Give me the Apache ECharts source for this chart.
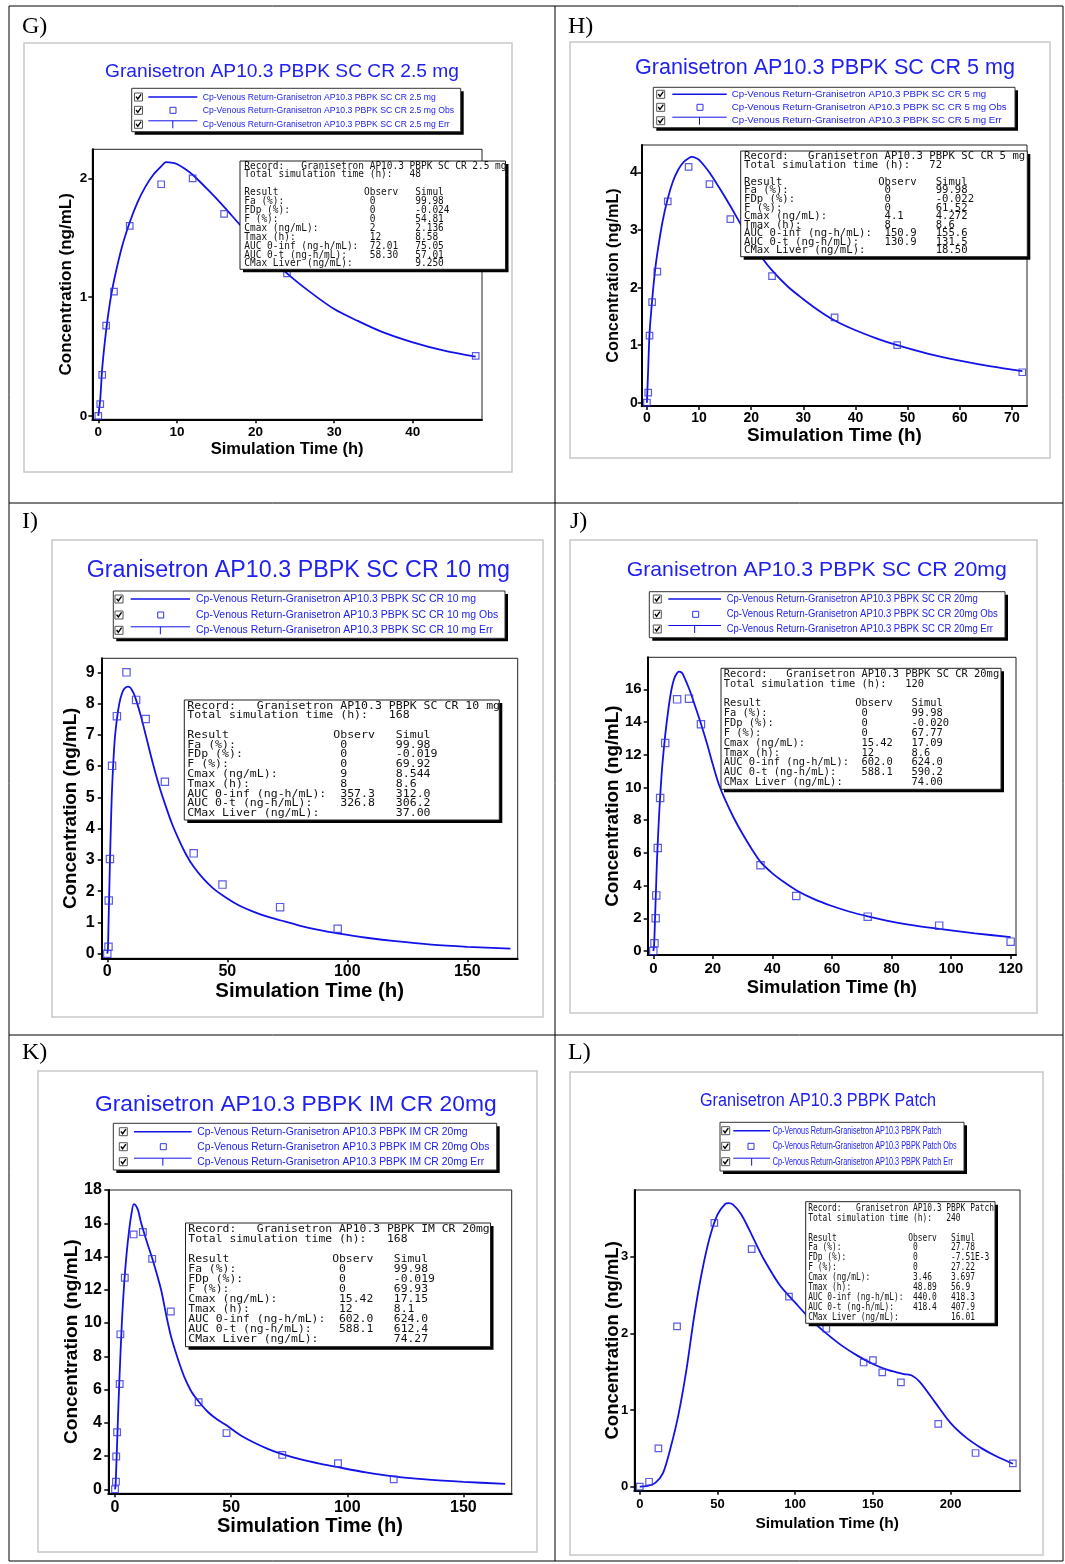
<!DOCTYPE html>
<html><head><meta charset="utf-8">
<script src="https://cdn.jsdelivr.net/npm/echarts@6/dist/echarts.min.js"></script>
<style>html,body{margin:0;padding:0;background:#fff}#c{width:1065px;height:1564px}</style>
</head><body><div id="c"></div>
<script>
// ---------------- DATA ----------------
const xAxisName = 'Simulation Time (h)';
const yAxisName = 'Concentration (ng/mL)';
const resultLabels = ['Fa (%):','FDp (%):','F (%):','Cmax (ng/mL):','Tmax (h):','AUC 0-inf (ng-h/mL):','AUC 0-t (ng-h/mL):','CMax Liver (ng/mL):'];

// G
const titleG = 'Granisetron AP10.3 PBPK SC CR 2.5 mg';
const seriesG = 'Cp-Venous Return-Granisetron AP10.3 PBPK SC CR 2.5 mg';
const simG = [[0,0],[0.25,0.14],[0.5,0.4],[1,0.72],[1.5,0.96],[2,1.14],[3,1.42],[4,1.63],[5,1.8],[6,1.93],[7,2.03],[8,2.1],[8.6,2.136],[9.5,2.13],[10,2.12],[11,2.08],[12,2.03],[14,1.9],[16,1.76],[18,1.61],[20,1.47],[22,1.33],[24,1.2],[27,1.04],[30,0.9],[33,0.8],[36,0.71],[40,0.62],[44,0.55],[48,0.5]];
const obsG = [[0,0],[0.25,0.10],[0.5,0.345],[1,0.76],[2,1.046],[4,1.6],[8,1.95],[12,2.0],[16,1.7],[24,1.2],[48,0.505]];
const xTicksG = [0,10,20,30,40];
const yTicksG = [0,1,2];
const totalG = '48';
const resObsG = ['0','0','0','2','12','72.01','58.30',''];
const resSimG = ['99.98','-0.024','54.81','2.136','8.58','75.05','57.01','9.250'];

// H
const titleH = 'Granisetron AP10.3 PBPK SC CR 5 mg';
const seriesH = 'Cp-Venous Return-Granisetron AP10.3 PBPK SC CR 5 mg';
const simH = [[0,0],[0.25,0.6],[0.5,1.2],[1,1.78],[1.5,2.25],[2,2.6],[3,3.15],[4,3.55],[5,3.85],[6,4.05],[7,4.18],[8,4.25],[8.6,4.272],[9.5,4.25],[10,4.22],[11,4.12],[12,4.0],[14,3.72],[16,3.42],[18,3.1],[20,2.8],[22,2.53],[24,2.3],[27,2.02],[30,1.8],[33,1.6],[36,1.43],[40,1.26],[44,1.12],[48,1.0],[54,0.85],[60,0.73],[66,0.63],[72,0.55]];
const obsH = [[0,0],[0.25,0.174],[0.5,1.165],[1,1.75],[2,2.28],[4,3.5],[8,4.1],[12,3.8],[16,3.19],[24,2.2],[36,1.485],[48,1.0],[72,0.53]];
const xTicksH = [0,10,20,30,40,50,60,70];
const yTicksH = [0,1,2,3,4];
const totalH = '72';
const resObsH = ['0','0','0','4.1','8','150.9','130.9',''];
const resSimH = ['99.98','-0.022','61.52','4.272','8.6','155.6','131.5','18.50'];

// I
const titleI = 'Granisetron AP10.3 PBPK SC CR 10 mg';
const seriesI = 'Cp-Venous Return-Granisetron AP10.3 PBPK SC CR 10 mg';
const simI = [[0,0],[0.25,0.15],[0.5,0.9],[1,2.6],[1.5,4.1],[2,5.3],[3,6.75],[4,7.5],[5,8.0],[6,8.3],[7,8.47],[8,8.53],[8.6,8.544],[9.5,8.52],[10,8.47],[11,8.33],[12,8.12],[14,7.6],[16,7.0],[18,6.38],[20,5.8],[22,5.27],[24,4.8],[27,4.15],[30,3.62],[33,3.15],[36,2.78],[40,2.4],[44,2.1],[48,1.87],[54,1.58],[60,1.37],[66,1.2],[72,1.07],[80,0.9],[88,0.76],[96,0.65],[108,0.51],[120,0.4],[135,0.29],[150,0.22],[168,0.16]];
const obsI = [[0,0],[0.5,0.22],[0.6,1.7],[1.1,3.03],[2,6.01],[4,7.6],[8,9.0],[12,8.12],[16,7.51],[24,5.5],[36,3.21],[48,2.21],[72,1.49],[96,0.80]];
const xTicksI = [0,50,100,150];
const yTicksI = [0,1,2,3,4,5,6,7,8,9];
const totalI = '168';
const resObsI = ['0','0','0','9','8','357.3','326.8',''];
const resSimI = ['99.98','-0.019','69.92','8.544','8.6','312.0','306.2','37.00'];

// J
const titleJ = 'Granisetron AP10.3 PBPK SC CR 20mg';
const seriesJ = 'Cp-Venous Return-Granisetron AP10.3 PBPK SC CR 20mg';
const simJ = [[0,0],[0.25,0.3],[0.5,1.5],[1,4.3],[1.34,6.0],[2,8.5],[2.5,10.0],[3,11.3],[4,13.2],[5,14.7],[6,15.9],[7,16.65],[8,17.0],[8.6,17.09],[9.5,17.03],[10,16.9],[12,16.05],[14,15.0],[16,13.9],[18,12.7],[20,11.4],[22,10.2],[24,9.3],[27,8.15],[30,7.15],[33,6.25],[36,5.45],[40,4.75],[44,4.2],[48,3.72],[54,3.17],[60,2.75],[66,2.4],[72,2.12],[80,1.8],[88,1.55],[96,1.35],[108,1.08],[120,0.85]];
const obsJ = [[0,0],[0.4,0.47],[0.8,2.0],[1.0,3.4],[1.5,6.3],[2.3,9.36],[4,12.72],[8,15.39],[12,15.43],[16,13.87],[36,5.24],[48,3.36],[72,2.10],[96,1.55],[120,0.57]];
const xTicksJ = [0,20,40,60,80,100,120];
const yTicksJ = [0,2,4,6,8,10,12,14,16];
const totalJ = '120';
const resObsJ = ['0','0','0','15.42','12','602.0','588.1',''];
const resSimJ = ['99.98','-0.020','67.77','17.09','8.6','624.0','590.2','74.00'];

// K
const titleK = 'Granisetron AP10.3 PBPK IM CR 20mg';
const seriesK = 'Cp-Venous Return-Granisetron AP10.3 PBPK IM CR 20mg';
const simK = [[0,0],[0.25,0.3],[0.5,1.2],[1,3.2],[1.5,5.2],[2,7.0],[3,10.2],[4,12.5],[5,14.2],[6,15.5],[7,16.5],[8.1,17.15],[9,17.05],[10,16.75],[11,16.15],[12,15.65],[14,14.75],[16,13.9],[18,12.95],[20,11.9],[22,10.5],[24,9.25],[26,8.3],[28,7.45],[30,6.7],[33,5.85],[36,5.28],[40,4.65],[44,4.2],[48,3.85],[54,3.25],[60,2.8],[66,2.42],[72,2.12],[80,1.8],[88,1.55],[96,1.33],[108,1.02],[120,0.78],[135,0.58],[150,0.45],[168,0.33]];
const obsK = [[0,0],[0.4,0.46],[0.5,1.97],[0.9,3.43],[2,6.33],[2.3,9.32],[4.2,12.72],[8,15.33],[12,15.47],[16,13.86],[24,10.69],[36,5.24],[48,3.38],[72,2.07],[96,1.57],[120,0.60]];
const xTicksK = [0,50,100,150];
const yTicksK = [0,2,4,6,8,10,12,14,16,18];
const totalK = '168';
const resObsK = ['0','0','0','15.42','12','602.0','588.1',''];
const resSimK = ['99.98','-0.019','69.93','17.15','8.1','624.0','612.4','74.27'];

// L
const titleL = 'Granisetron AP10.3 PBPK Patch';
const seriesL = 'Cp-Venous Return-Granisetron AP10.3 PBPK Patch';
const simL = [[0,0],[5,0.01],[10,0.05],[15,0.18],[20,0.52],[25,0.95],[30,1.52],[35,2.22],[40,2.8],[45,3.25],[50,3.55],[55,3.69],[57,3.7],[60,3.68],[65,3.56],[70,3.37],[75,3.16],[80,2.96],[90,2.63],[100,2.4],[110,2.18],[120,2.0],[130,1.84],[140,1.71],[150,1.6],[160,1.52],[170,1.47],[175,1.45],[180,1.37],[190,1.1],[200,0.83],[210,0.64],[220,0.5],[230,0.39],[240,0.3]];
const obsL = [[0,0],[6,0.065],[12,0.5],[24,2.09],[48,3.44],[72,3.1],[96,2.48],[120,2.06],[144,1.62],[150,1.65],[156,1.49],[168,1.36],[192,0.82],[216,0.44],[240,0.305]];
const xTicksL = [0,50,100,150,200];
const yTicksL = [0,1,2,3];
const totalL = '240';
const resObsL = ['0','0','0','3.46','48.89','440.0','418.4',''];
const resSimL = ['27.78','-7.51E-3','27.22','3.697','56.9','418.3','407.9','16.01'];

const panelLetters = ['G)','H)','I)','J)','K)','L)'];

// ---------------- LAYOUT ----------------
const LAY = [
 {grid:[92.3,149.3,389.7,270], xr:[-0.76,48.8], yr:[-0.028,2.244], tfs:13.5, xlm:6, ylm:5, xnfs:16.5, xng:22, ynfs:17, yng:17,
  title:[282,71.5,354,19], frame:[24,43,488,429], lab:[22,27], sym:6.5,
  legend:{x:131.7,y:88.3,w:329,h:43.4,rows:[97,110.3,124.3],cb:134.5,lx1:148.3,lx2:197.3,sq:173,tx:202.7,fs:9.3,obsW:251.3},
  record:{x:240,y:161,w:265.5,h:108.3,tx:244.3,ty0:166,lh:8.9,cw:5.7,fs:9.8}},
 {grid:[641.7,145,385.3,261], xr:[-1.0,72.9], yr:[-0.057,4.48], tfs:14, xlm:5, ylm:4, xnfs:18.9, xng:20.5, ynfs:16.3, yng:20,
  title:[825,68,380,21.5], frame:[570,42,480,416], lab:[568,27], sym:6.5,
  legend:{x:653.3,y:87.3,w:361.7,h:40.4,rows:[94.3,107.3,120.7],cb:656.7,lx1:672.3,lx2:726.7,sq:700,tx:731.7,fs:9.2,obsW:275},
  record:{x:740.7,y:151,w:286.6,h:105.7,tx:744,ty0:156.7,lh:8.57,cw:6.39,fs:9.6}},
 {grid:[101.7,658.3,416,300], xr:[-2.33,171], yr:[-0.147,9.45], tfs:16, xlm:5, ylm:7, xnfs:20.4, xng:23, ynfs:18.8, yng:21,
  title:[298.3,570.5,423.3,23], frame:[52,540,491,477], lab:[22,522], sym:7.3,
  legend:{x:113.3,y:591,w:391.7,h:47.3,rows:[599,615,630.3],cb:115,lx1:130.7,lx2:190,sq:160.7,tx:196,fs:10.3,obsW:302.3},
  record:{x:184.3,y:700,w:315,h:120,tx:187.3,ty0:705.7,lh:9.78,cw:6.95,fs:10.8}},
 {grid:[647.7,657.3,368.3,297.7], xr:[-1.88,121.8], yr:[-0.245,17.96], tfs:15, xlm:6.5, ylm:6, xnfs:18.4, xng:24, ynfs:18.8, yng:25,
  title:[816.7,570.5,380,21], frame:[570,540,467,473], lab:[570,522], sym:7.3,
  legend:{x:649.3,y:591.7,w:355.7,h:46,rows:[599,614.3,629],cb:653.3,lx1:668.3,lx2:721,sq:695.7,tx:726.7,fs:10,obsW:271},
  record:{x:721,y:668.3,w:280,h:121,tx:723.7,ty0:674,lh:9.85,cw:6.26,fs:10.4}},
 {grid:[108.3,1190,403.4,303.3], xr:[-2.9,170.8], yr:[-0.24,18.0], tfs:16, xlm:6.5, ylm:6.5, xnfs:20.1, xng:23, ynfs:19.1, yng:27.5,
  title:[295.8,1104.5,401.7,22.8], frame:[38,1071,499,481], lab:[22,1053], sym:6.7,
  legend:{x:113.3,y:1123.3,w:383.4,h:46.7,rows:[1131.7,1146.7,1161.7],cb:119.3,lx1:134,lx2:191.7,sq:163.3,tx:197.3,fs:10.2,obsW:292},
  record:{x:185.5,y:1223,w:305,h:123.7,tx:188.3,ty0:1229.3,lh:10,cw:6.85,fs:11}},
 {grid:[634.3,1190,385.7,300.7], xr:[-3.5,244.6], yr:[-0.052,3.87], tfs:13, xlm:7, ylm:6, xnfs:15.5, xng:25, ynfs:18.5, yng:11.5,
  title:[818,1101.5,236,18], frame:[570,1072,473,483], lab:[568,1053], sym:6.5,
  legend:{x:720,y:1122.3,w:244,h:48.7,rows:[1130.7,1146.3,1161.7],cb:721.7,lx1:733.3,lx2:770,sq:751,tx:772.7,fs:10.3,obsW:184},
  record:{x:805.7,y:1201.7,w:189.3,h:121.6,tx:808.3,ty0:1208.3,lh:9.9,cw:4.76,fs:9.8}}
];

const PANELS = [
 {title:titleG, name:seriesG, sim:simG, obs:obsG, xt:xTicksG, yt:yTicksG, total:totalG, ro:resObsG, rs:resSimG},
 {title:titleH, name:seriesH, sim:simH, obs:obsH, xt:xTicksH, yt:yTicksH, total:totalH, ro:resObsH, rs:resSimH},
 {title:titleI, name:seriesI, sim:simI, obs:obsI, xt:xTicksI, yt:yTicksI, total:totalI, ro:resObsI, rs:resSimI},
 {title:titleJ, name:seriesJ, sim:simJ, obs:obsJ, xt:xTicksJ, yt:yTicksJ, total:totalJ, ro:resObsJ, rs:resSimJ},
 {title:titleK, name:seriesK, sim:simK, obs:obsK, xt:xTicksK, yt:yTicksK, total:totalK, ro:resObsK, rs:resSimK},
 {title:titleL, name:seriesL, sim:simL, obs:obsL, xt:xTicksL, yt:yTicksL, total:totalL, ro:resObsL, rs:resSimL}
];

const LINE_BLUE = '#1212e8';
const SQ_BLUE = '#3232e0';
const TEXT_BLUE = '#2020f0';
const SANS = '"Liberation Sans", Arial, sans-serif';
const MONO = '"DejaVu Sans Mono", "Liberation Mono", monospace';

const mctx = document.createElement('canvas').getContext('2d');
function measure(str, font){ mctx.font = font; return mctx.measureText(str).width; }

const GR = [];
function rectEl(x,y,w,h,style,z){ GR.push({type:'rect', silent:true, z:z||10, shape:{x:x,y:y,width:w,height:h}, style:style}); }
function lineEl(x1,y1,x2,y2,stroke,lw,z){ GR.push({type:'line', silent:true, z:z||10, shape:{x1:x1,y1:y1,x2:x2,y2:y2}, style:{stroke:stroke,lineWidth:lw}}); }
function textEl(str,x,y,font,fill,align,sx,z){
  GR.push({type:'text', silent:true, z:z||30, x:x, y:y, scaleX:sx||1, scaleY:1,
    style:{text:str, font:font, fill:fill, textAlign:align||'left', textVerticalAlign:'middle'}});
}

// table lines
rectEl(9,6,1054,1555,{fill:'none',stroke:'#000',lineWidth:1},1);
lineEl(555,6,555,1561,'#000',1,1);
lineEl(9,503,1063,503,'#000',1,1);
lineEl(9,1035,1063,1035,'#000',1,1);

function recordLines(P){
  const out = [];
  out.push('Record:'.padEnd(10) + P.title);
  out.push('Total simulation time (h):'.padEnd(29) + P.total);
  out.push('');
  out.push('Result'.padEnd(21) + 'Observ'.padEnd(9) + 'Simul');
  resultLabels.forEach(function(lab,i){ out.push(lab.padEnd(22) + P.ro[i].padEnd(8) + P.rs[i]); });
  return out;
}

const grids=[], xAxes=[], yAxes=[], series=[];
PANELS.forEach(function(P,i){
  const L = LAY[i];
  rectEl(L.frame[0],L.frame[1],L.frame[2],L.frame[3],{fill:'none',stroke:'#c8c8c8',lineWidth:1.5},2);
  textEl(panelLetters[i], L.lab[0], L.lab[1], '24px "Liberation Serif", "Times New Roman", serif', '#000','left',1,5);
  const tf = L.title[3] + 'px ' + SANS;
  textEl(P.title, L.title[0], L.title[1], tf, TEXT_BLUE, 'center', L.title[2]/measure(P.title, tf), 5);
  const lg = L.legend;
  rectEl(lg.x+3, lg.y+3, lg.w, lg.h, {fill:'#000'}, 20);
  rectEl(lg.x, lg.y, lg.w, lg.h, {fill:'#fff', stroke:'#333', lineWidth:1}, 21);
  const names = [P.name, P.name + ' Obs', P.name + ' Err'];
  const lf = lg.fs + 'px ' + SANS;
  const lsx = lg.obsW / measure(names[1], lf);
  names.forEach(function(nm, r){
    const y = lg.rows[r];
    const s = 8;
    rectEl(lg.cb, y - s/2, s, s, {fill:'#fff', stroke:'#555', lineWidth:1}, 22);
    GR.push({type:'polyline', silent:true, z:23, shape:{points:[[lg.cb+1.6,y-0.3],[lg.cb+3.3,y+2],[lg.cb+6.6,y-2.6]]}, style:{stroke:'#000', lineWidth:1.4, fill:'none'}});
    if (r === 0) lineEl(lg.lx1, y, lg.lx2, y, LINE_BLUE, 1.5, 22);
    if (r === 1) rectEl(lg.sq - 3, y - 3, 6, 6, {fill:'none', stroke:SQ_BLUE, lineWidth:1}, 22);
    if (r === 2) { lineEl(lg.lx1, y-3.5, lg.lx2, y-3.5, LINE_BLUE, 1, 22); lineEl((lg.lx1+lg.lx2)/2, y-3.5, (lg.lx1+lg.lx2)/2, y+4, LINE_BLUE, 1, 22); }
    textEl(nm, lg.tx, y, lf, TEXT_BLUE, 'left', lsx, 23);
  });
  const rc = L.record;
  rectEl(rc.x+3, rc.y+3, rc.w, rc.h, {fill:'#000'}, 40);
  rectEl(rc.x, rc.y, rc.w, rc.h, {fill:'#fff', stroke:'#222', lineWidth:1}, 41);
  const rf = rc.fs + 'px ' + MONO;
  const rsx = rc.cw / (measure('0000000000', rf)/10);
  recordLines(P).forEach(function(ln, k){ if (ln) textEl(ln, rc.tx, rc.ty0 + k*rc.lh, rf, '#111', 'left', rsx, 42); });

  grids.push({left:L.grid[0], top:L.grid[1], width:L.grid[2], height:L.grid[3], show:true, borderColor:'#222', borderWidth:1, backgroundColor:'rgba(0,0,0,0)', containLabel:false});
  const nameStyleX = {color:'#000', fontFamily:SANS, fontWeight:'bold', fontSize:L.xnfs};
  const nameStyleY = {color:'#000', fontFamily:SANS, fontWeight:'bold', fontSize:L.ynfs};
  xAxes.push({type:'value', gridIndex:i, min:L.xr[0], max:L.xr[1],
    axisLine:{show:true, onZero:false, lineStyle:{color:'#000', width:2}},
    axisTick:{show:true, inside:false, length:4, customValues:P.xt, lineStyle:{color:'#000', width:1.5}},
    axisLabel:{show:true, customValues:P.xt, margin:L.xlm, color:'#000', fontFamily:SANS, fontWeight:'bold', fontSize:L.tfs},
    splitLine:{show:false}, minorTick:{show:false},
    name:xAxisName, nameLocation:'middle', nameGap:L.xng, nameMoveOverlap:false, nameTextStyle:nameStyleX});
  yAxes.push({type:'value', gridIndex:i, min:L.yr[0], max:L.yr[1],
    axisLine:{show:true, onZero:false, lineStyle:{color:'#000', width:2}},
    axisTick:{show:true, inside:false, length:4, customValues:P.yt, lineStyle:{color:'#000', width:1.5}},
    axisLabel:{show:true, customValues:P.yt, margin:L.ylm, color:'#000', fontFamily:SANS, fontWeight:'bold', fontSize:L.tfs},
    splitLine:{show:false}, minorTick:{show:false},
    name:yAxisName, nameLocation:'middle', nameGap:L.yng, nameMoveOverlap:false, nameTextStyle:nameStyleY});
  series.push({type:'line', name:P.name, xAxisIndex:i, yAxisIndex:i, data:P.sim, smooth:0.3,
    symbol:'none', showSymbol:false, lineStyle:{color:LINE_BLUE, width:1.8}, itemStyle:{color:LINE_BLUE}, z:3, silent:true});
  series.push({type:'scatter', name:P.name + ' Obs', xAxisIndex:i, yAxisIndex:i, data:P.obs, symbol:'rect', symbolSize:L.sym,
    itemStyle:{color:'rgba(0,0,0,0)', borderColor:SQ_BLUE, borderWidth:1.2}, z:4, silent:true});
});

const chart = echarts.init(document.getElementById('c'), null, {renderer:'canvas', width:1065, height:1564});
chart.setOption({
  animation:false,
  backgroundColor:'#fff',
  grid:grids, xAxis:xAxes, yAxis:yAxes, series:series,
  graphic:{elements:GR}
});
</script></body></html>
